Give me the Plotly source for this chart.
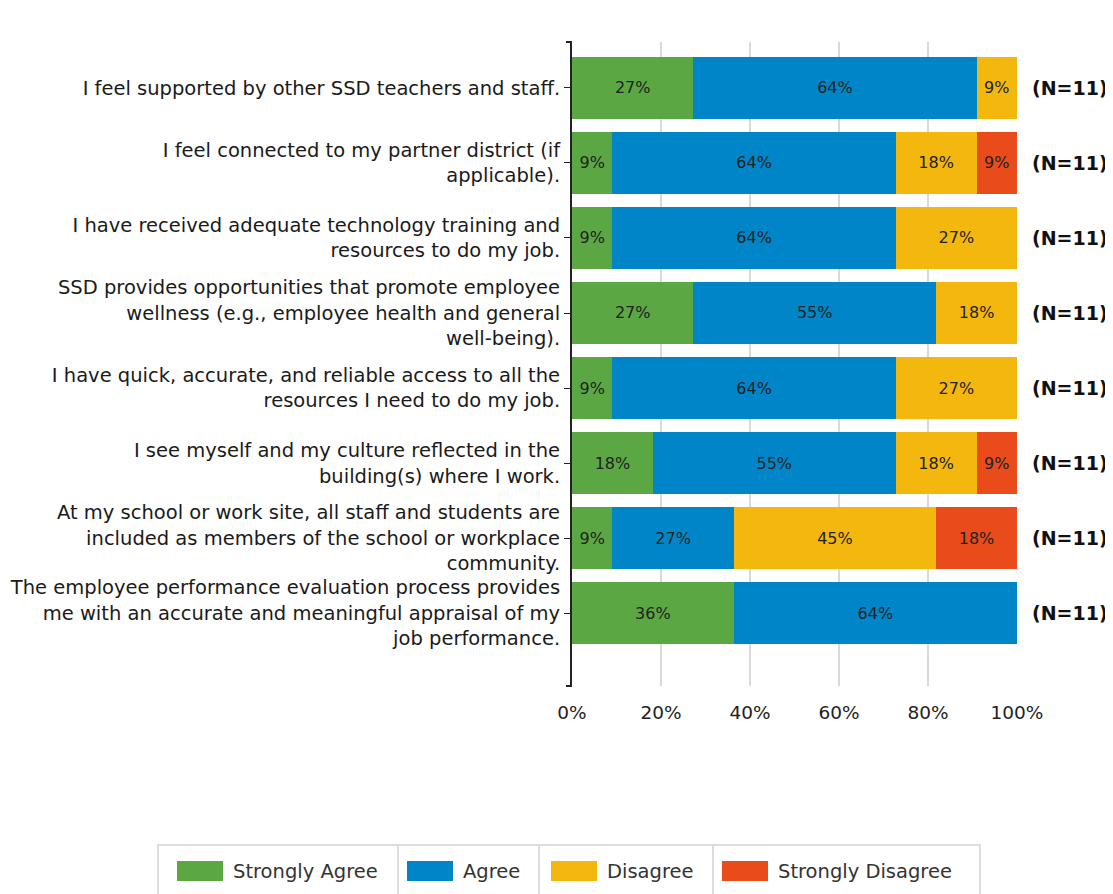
import plotly.graph_objects as go

categories = [
    "I feel supported by other SSD teachers and staff.",
    "I feel connected to my partner district (if<br>applicable).",
    "I have received adequate technology training and<br>resources to do my job.",
    "SSD provides opportunities that promote employee<br>wellness (e.g., employee health and general<br>well-being).",
    "I have quick, accurate, and reliable access to all the<br>resources I need to do my job.",
    "I see myself and my culture reflected in the<br>building(s) where I work.",
    "At my school or work site, all staff and students are<br>included as members of the school or workplace<br>community.",
    "The employee performance evaluation process provides<br>me with an accurate and meaningful appraisal of my<br>job performance.",
]
strongly_agree = [27.27, 9.09, 9.09, 27.27, 9.09, 18.18, 9.09, 36.36]
agree = [63.64, 63.64, 63.64, 54.55, 63.64, 54.55, 27.27, 63.64]
disagree = [9.09, 18.18, 27.27, 18.18, 27.27, 18.18, 45.45, 0]
strongly_disagree = [0, 9.09, 0, 0, 0, 9.09, 18.18, 0]
n_labels = ["(N=11)"] * 8
series_names = ["Strongly Agree", "Agree", "Disagree", "Strongly Disagree"]
series_colors = ["#5BA744", "#0086C8", "#F4B70E", "#E94B1A"]
x_ticks = [0, 20, 40, 60, 80, 100]
x_tick_text = ["0%", "20%", "40%", "60%", "80%", "100%"]

FONT = "DejaVu Sans"
OFF = 8  # browser body margin
W, H = 1113 - OFF, 894 - OFF
# plot area in page pixels
L, R, T, B = 572, 1017, 42, 686
pw, ph = R - L, B - T


def px2x(px):
    return (px - L) / pw


def px2y(py):
    return (B - py) / ph


fig = go.Figure()
for name, color, vals in zip(series_names, series_colors,
                             [strongly_agree, agree, disagree, strongly_disagree]):
    fig.add_trace(go.Bar(
        y=categories, x=vals, name=name, orientation="h",
        marker=dict(color=color, line=dict(width=0)),
        text=[f"{v:.0f}%" if v > 0 else "" for v in vals],
        textposition="inside", insidetextanchor="middle", textangle=0,
        textfont=dict(family=FONT, size=16, color="#222222"),
        constraintext="none", cliponaxis=False,
        showlegend=False, hoverinfo="skip",
    ))

annotations = []
for cat, lab in zip(categories, n_labels):
    annotations.append(dict(x=px2x(1030), y=cat, xref="paper", yref="y", text="<b>" + lab + "</b>",
                            showarrow=False, xanchor="left", yanchor="middle",
                            font=dict(family=FONT, size=19, color="#111111")))

shapes = []
# bracket ends of y axis
for py in (T, B):
    shapes.append(dict(type="line", xref="paper", yref="paper", x0=px2x(566), x1=0,
                       y0=px2y(py), y1=px2y(py), line=dict(color="#222222", width=2)))

# manual legend
leg_top, leg_bot = 845, 910
shapes.append(dict(type="rect", xref="paper", yref="paper", x0=px2x(158), x1=px2x(980),
                   y0=px2y(leg_bot), y1=px2y(leg_top), line=dict(color="#DDDDDD", width=2),
                   fillcolor="rgba(0,0,0,0)"))
sw_x = [177, 407, 551, 722]
sep_x = [398, 539, 713]
for sx in sep_x:
    shapes.append(dict(type="line", xref="paper", yref="paper", x0=px2x(sx), x1=px2x(sx),
                       y0=px2y(leg_bot), y1=px2y(leg_top), line=dict(color="#DDDDDD", width=2)))
for sx, name, color in zip(sw_x, series_names, series_colors):
    shapes.append(dict(type="rect", xref="paper", yref="paper", x0=px2x(sx), x1=px2x(sx + 46),
                       y0=px2y(881), y1=px2y(861), fillcolor=color, line=dict(width=0)))
    annotations.append(dict(x=px2x(sx + 54), y=px2y(871), xref="paper", yref="paper", text=name,
                            showarrow=False, xanchor="left", yanchor="middle",
                            font=dict(family=FONT, size=19.5, color="#333333")))

fig.update_layout(
    barmode="stack", bargap=0.17,
    width=W, height=H,
    margin=dict(l=L - OFF, r=W - (R - OFF), t=T - OFF, b=H - (B - OFF), autoexpand=False),
    paper_bgcolor="white", plot_bgcolor="white",
    font=dict(family=FONT, size=19, color="#1a1a1a"),
    shapes=shapes, annotations=annotations,
    xaxis=dict(range=[0, 100], tickvals=x_ticks, ticktext=x_tick_text, showgrid=True,
               gridcolor="#D9D9D9", gridwidth=2, zeroline=False, showline=False,
               ticks="outside", ticklen=10, tickcolor="rgba(0,0,0,0)",
               tickfont=dict(family=FONT, size=18.5, color="#222222"), fixedrange=True),
    yaxis=dict(type="category", range=[7.973, -0.613], showline=True, linecolor="#222222",
               linewidth=2, ticks="outside", ticklen=6, tickcolor="#222222", tickwidth=1,
               tickfont=dict(family=FONT, size=19.5, color="#1a1a1a"), showgrid=False,
               fixedrange=True),
)

fig.write_html("out.html")
